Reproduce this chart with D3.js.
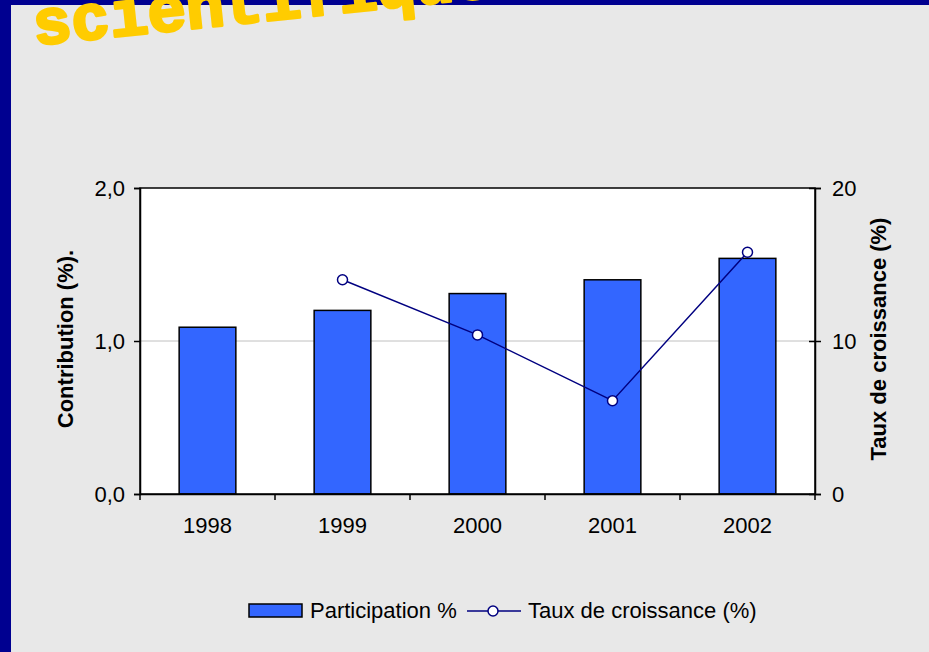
<!DOCTYPE html>
<html>
<head>
<meta charset="utf-8">
<script src="https://cdn.jsdelivr.net/npm/d3@7"></script>
<style>
  html, body { margin: 0; padding: 0; background: #e8e8e8; }
  svg { display: block; font-family: "Liberation Sans", Arial, sans-serif; }
</style>
</head>
<body>
<script>
// chart data
var years = ["1998", "1999", "2000", "2001", "2002"];
var participation = [1.09, 1.2, 1.31, 1.4, 1.54];
var croissance = [null, 14.0, 10.4, 6.1, 15.8];
var leftTicks = [0, 1, 2];
var rightTicks = [0, 10, 20];

var W = 929, H = 652;
var margin = { top: 188, right: 114, bottom: 158, left: 140 };
var width = W - margin.left - margin.right,
    height = H - margin.top - margin.bottom;

var barColor = "#3366ff", lineColor = "#000080";

var svg = d3.select("body").append("svg")
    .attr("width", W)
    .attr("height", H);

// slide background + navy frame
svg.append("rect").attr("width", W).attr("height", H).attr("fill", "#e8e8e8");
svg.append("rect").attr("x", 0).attr("y", 0).attr("width", W).attr("height", 5).attr("fill", "#000090");
svg.append("rect").attr("x", 0).attr("y", 0).attr("width", 11).attr("height", H).attr("fill", "#000090");

// title leftover at the top of the slide
svg.append("text")
    .attr("x", 35)
    .attr("y", 45)
    .attr("transform", "rotate(-6,35,45)")
    .style("font-family", "'Liberation Mono', 'Courier New', monospace")
    .style("font-weight", "bold")
    .style("font-size", "64px")
    .attr("fill", "#ffcc00")
    .attr("stroke", "#ffcc00")
    .attr("stroke-width", 3)
    .attr("stroke-linejoin", "round")
    .text("scientifique");

var g = svg.append("g")
    .attr("transform", "translate(" + margin.left + "," + margin.top + ")");

var x = d3.scaleBand().domain(years).range([0, width]).padding(0);
var yL = d3.scaleLinear().domain([0, 2]).range([height, 0]);
var yR = d3.scaleLinear().domain([0, 20]).range([height, 0]);

// plot background
g.append("rect").attr("width", width).attr("height", height).attr("fill", "#fff");

// gridline
g.selectAll("line.grid")
    .data(leftTicks.filter(function (d) { return d > 0 && d < 2; }))
    .enter().append("line")
    .attr("class", "grid")
    .attr("x1", 0).attr("x2", width)
    .attr("y1", function (d) { return yL(d); })
    .attr("y2", function (d) { return yL(d); })
    .attr("stroke", "#c0c0c0")
    .attr("stroke-width", 1);

// bars
var barW = x.bandwidth() * 0.42;
g.selectAll("rect.bar")
    .data(participation)
    .enter().append("rect")
    .attr("class", "bar")
    .attr("x", function (d, i) { return x(years[i]) + (x.bandwidth() - barW) / 2; })
    .attr("y", function (d) { return yL(d); })
    .attr("width", barW)
    .attr("height", function (d) { return height - yL(d); })
    .attr("fill", barColor)
    .attr("stroke", "#000")
    .attr("stroke-width", 1.5);

// plot frame
g.append("rect").attr("width", width).attr("height", height)
    .attr("fill", "none").attr("stroke", "#000").attr("stroke-width", 1.5);

// line series
var pts = croissance.map(function (v, i) { return { year: years[i], v: v }; })
    .filter(function (d) { return d.v !== null; });

var line = d3.line()
    .x(function (d) { return x(d.year) + x.bandwidth() / 2; })
    .y(function (d) { return yR(d.v); });

g.append("path")
    .datum(pts)
    .attr("d", line)
    .attr("fill", "none")
    .attr("stroke", lineColor)
    .attr("stroke-width", 1.5);

g.selectAll("circle.pt")
    .data(pts)
    .enter().append("circle")
    .attr("class", "pt")
    .attr("cx", function (d) { return x(d.year) + x.bandwidth() / 2; })
    .attr("cy", function (d) { return yR(d.v); })
    .attr("r", 5)
    .attr("fill", "#fff")
    .attr("stroke", lineColor)
    .attr("stroke-width", 1.5);

// left axis
var axL = g.append("g")
    .call(d3.axisLeft(yL).tickValues(leftTicks).tickSize(6).tickPadding(9)
        .tickFormat(function (d) { return d3.format(".1f")(d).replace(".", ","); }));
axL.select(".domain").attr("stroke-width", 1.5);
axL.selectAll(".tick line").attr("stroke-width", 1.5);
axL.selectAll("text").style("font-size", "22px").attr("fill", "#000");

// right axis (ticks crossing)
var axR = g.append("g")
    .attr("transform", "translate(" + width + ",0)")
    .call(d3.axisRight(yR).tickValues(rightTicks).tickSize(6).tickPadding(11));
axR.select(".domain").attr("stroke-width", 1.5);
axR.selectAll(".tick line").attr("x1", -6).attr("stroke-width", 1.5);
axR.selectAll("text").style("font-size", "22px").attr("fill", "#000");

// bottom axis: ticks on category boundaries
var axB = g.append("g")
    .attr("transform", "translate(0," + height + ")")
    .call(d3.axisBottom(x).tickSize(0).tickPadding(23));
axB.select(".domain").attr("stroke-width", 1.5);
axB.selectAll("text").style("font-size", "22px").attr("fill", "#000");
axB.selectAll("line.sep")
    .data(d3.range(years.length + 1))
    .enter().append("line")
    .attr("class", "sep")
    .attr("x1", function (i) { return i * x.step(); })
    .attr("x2", function (i) { return i * x.step(); })
    .attr("y1", 0).attr("y2", 6)
    .attr("stroke", "#000").attr("stroke-width", 1.5);

// axis titles
svg.append("text")
    .attr("transform", "translate(73,339) rotate(-90)")
    .attr("text-anchor", "middle")
    .style("font-size", "22px")
    .style("font-weight", "bold")
    .text("Contribution (%).");

svg.append("text")
    .attr("transform", "translate(886,339) rotate(-90)")
    .attr("text-anchor", "middle")
    .style("font-size", "22px")
    .style("font-weight", "bold")
    .text("Taux de croissance (%)");

// legend
var leg = svg.append("g");
leg.append("rect")
    .attr("x", 249).attr("y", 604).attr("width", 53).attr("height", 13)
    .attr("fill", barColor).attr("stroke", "#000").attr("stroke-width", 1.5);
leg.append("text").attr("x", 310).attr("y", 618)
    .style("font-size", "22px").text("Participation %");
leg.append("line")
    .attr("x1", 467).attr("x2", 521).attr("y1", 611).attr("y2", 611)
    .attr("stroke", lineColor).attr("stroke-width", 1.5);
leg.append("circle")
    .attr("cx", 493).attr("cy", 611).attr("r", 5)
    .attr("fill", "#fff").attr("stroke", lineColor).attr("stroke-width", 1.5);
leg.append("text").attr("x", 528).attr("y", 618)
    .style("font-size", "22px").text("Taux de croissance (%)");
</script>
</body>
</html>
